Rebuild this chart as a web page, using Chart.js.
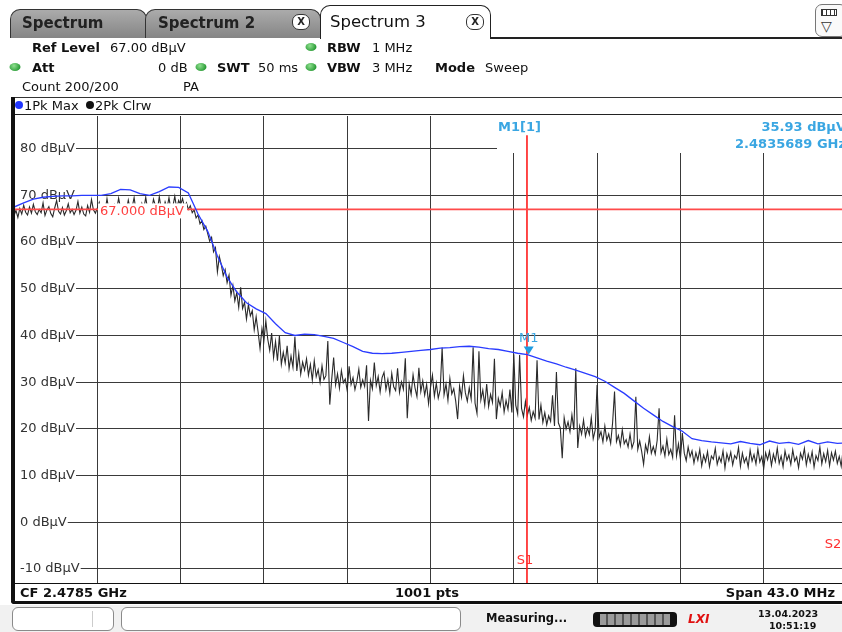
<!DOCTYPE html>
<html><head><meta charset="utf-8">
<script src="https://cdn.jsdelivr.net/npm/chart.js@4.4.1/dist/chart.umd.min.js"></script>
<style>
html,body{margin:0;padding:0;width:842px;height:632px;overflow:hidden;background:#fff;font-family:"DejaVu Sans",sans-serif;color:#111;}
#wrap{position:absolute;left:0;top:0;width:848px;height:632px;}
.t{position:absolute;transform:translateY(-50%);line-height:1;white-space:nowrap;font-size:13px;}
.b{font-weight:bold;}
.box{position:absolute;box-sizing:border-box;}
.dot{position:absolute;width:11px;height:8px;border-radius:50%;background:radial-gradient(circle at 40% 35%,#8fe08f,#2e9e3a 70%);transform:translate(-50%,-50%);}
.tab{position:absolute;box-sizing:border-box;border:1px solid #333;border-bottom:none;border-radius:10px 10px 0 0;background:linear-gradient(#ababab,#858585);}
.xb{position:absolute;box-sizing:border-box;width:18px;height:16px;border:1px solid #333;border-radius:7px;background:#fff;font:bold 10px "DejaVu Sans";text-align:center;line-height:14px;color:#222;}
</style></head><body>
<div id="wrap"><canvas id="c" width="848" height="632"></canvas></div>

<!-- tabs -->
<div class="tab" style="left:10px;top:9px;width:137px;height:29px;"></div>
<div class="t b" style="left:22px;top:23px;font-size:15px;color:#222;">Spectrum</div>
<div class="tab" style="left:145px;top:9px;width:176px;height:29px;"></div>
<div class="t b" style="left:158px;top:23px;font-size:15px;color:#222;">Spectrum 2</div>
<div class="xb" style="left:292px;top:14px;">X</div>
<div class="box" style="left:320px;top:5px;width:171px;height:34px;border:1.5px solid #222;border-bottom:none;border-radius:10px 10px 0 0;background:#fff;"></div>
<div class="t" style="left:330px;top:22px;font-size:16.5px;">Spectrum 3</div>
<div class="xb" style="left:466px;top:14px;">X</div>
<div class="box" style="left:490px;top:37px;width:352px;height:1.5px;background:#222;"></div>
<div class="box" style="left:815px;top:4px;width:32px;height:33px;border:1px solid #777;border-radius:7px;background:#fafafa;"></div>
<div class="box" style="left:821px;top:9px;width:16px;height:7px;border:1.5px solid #333;background:repeating-linear-gradient(90deg,#333 0 1px,#fff 1px 4px);"></div>
<div class="t" style="left:821px;top:26px;font-size:14px;color:#333;">▽</div>

<!-- header info -->
<div class="t b" style="left:32px;top:47px;">Ref Level</div>
<div class="t" style="left:110px;top:47px;">67.00 dBµV</div>
<div class="dot" style="left:311px;top:47px;"></div>
<div class="t b" style="left:327px;top:47px;">RBW</div>
<div class="t" style="left:372px;top:47px;">1 MHz</div>

<div class="dot" style="left:15px;top:67px;"></div>
<div class="t b" style="left:32px;top:67px;">Att</div>
<div class="t" style="left:158px;top:67px;">0 dB</div>
<div class="dot" style="left:201px;top:67px;"></div>
<div class="t b" style="left:217px;top:67px;">SWT</div>
<div class="t" style="left:258px;top:67px;">50 ms</div>
<div class="dot" style="left:311px;top:67px;"></div>
<div class="t b" style="left:327px;top:67px;">VBW</div>
<div class="t" style="left:372px;top:67px;">3 MHz</div>
<div class="t b" style="left:435px;top:67px;">Mode</div>
<div class="t" style="left:485px;top:67px;">Sweep</div>

<div class="t" style="left:22px;top:86px;">Count 200/200</div>
<div class="t" style="left:183px;top:86px;">PA</div>

<!-- legend row + frame -->
<div class="box" style="left:12px;top:97px;width:836px;height:1px;background:#333;"></div>
<div class="box" style="left:14px;top:114px;width:834px;height:1px;background:#222;"></div>
<div class="box" style="left:15px;top:101px;width:8px;height:8px;border-radius:50%;background:#1f35ff;"></div>
<div class="t" style="left:24px;top:105px;">1Pk Max</div>
<div class="box" style="left:86px;top:101px;width:8px;height:8px;border-radius:50%;background:#111;"></div>
<div class="t" style="left:95px;top:105px;">2Pk Clrw</div>
<div class="box" style="left:11px;top:97px;width:4px;height:507px;background:#111;border-radius:0 0 0 5px;"></div>
<div class="box" style="left:14px;top:583px;width:834px;height:1px;background:#111;"></div>
<div class="box" style="left:11px;top:601px;width:837px;height:3px;background:#111;border-radius:0 0 0 5px;"></div>
<div class="t b" style="left:20px;top:592px;">CF 2.4785 GHz</div>
<div class="t b" style="left:395px;top:592px;">1001 pts</div>
<div class="t b" style="right:7px;top:592px;">Span 43.0 MHz</div>

<!-- status bar -->
<div class="box" style="left:0;top:605px;width:842px;height:27px;background:#f1f1f1;"></div>
<div class="box" style="left:12px;top:607px;width:102px;height:24px;border:1px solid #8a8a8a;border-radius:6px;background:#fff;"></div>
<div class="box" style="left:92px;top:611px;width:1px;height:16px;background:#ccc;"></div>
<div class="box" style="left:121px;top:607px;width:340px;height:24px;border:1px solid #8a8a8a;border-radius:6px;background:#fff;"></div>
<div class="t b" style="left:486px;top:619px;font-size:11.5px;">Measuring...</div>
<div class="box" style="left:593px;top:612px;width:84px;height:15px;border-radius:4px;background:#111;"></div>
<div class="box" style="left:600px;top:614px;width:70px;height:11px;background:repeating-linear-gradient(90deg,#9a9a9a 0 6px,#555 6px 8px);"></div>
<div class="t b" style="left:688px;top:619px;font-size:12px;font-style:italic;color:#e01010;">LXI</div>
<div class="t b" style="left:758px;top:614px;font-size:9.5px;">13.04.2023</div>
<div class="t b" style="left:769px;top:626px;font-size:9.5px;">10:51:19</div>

<script>
// ---- data ----
const startFreqMHz = 2457.0;          // CF 2.4785 GHz - span/2
const spanMHz = 43.0;
const xGridMHz = [2457.0,2461.3,2465.6,2469.9,2474.2,2478.5,2482.8,2487.1,2491.4,2495.7,2500.0];
const yTickValues = [-10,0,10,20,30,40,50,60,70,80];
const yMin = -13, yMax = 87;

// Trace 1: 1Pk Max (one value every 0.5 MHz)
const blueStepMHz = 0.5;
const maxHoldLevels = [
 67.5,68.4,69.2,69.6,69.8,69.9,69.9,70.0,70.0,70.0,
 70.4,71.3,71.2,70.4,70.0,70.8,71.8,71.7,70.5,66.0,
 62.3,57.0,52.5,49.3,47.0,45.7,44.7,42.5,40.6,40.0,
 40.3,40.2,39.8,39.4,38.5,37.6,36.6,36.2,36.1,36.2,
 36.4,36.6,36.8,37.0,37.3,37.4,37.6,37.7,37.5,37.2,
 37.0,36.6,36.2,35.9,35.2,34.5,33.9,33.2,32.6,31.9,
 31.2,30.2,28.9,27.6,26.0,24.4,23.0,21.6,20.5,19.5,
 17.9,17.5,17.2,17.0,16.8,17.3,16.9,16.6,17.4,16.9,
 17.1,16.7,17.5,16.8,17.2,16.9,17.0];

// Trace 2: 2Pk Clrw (one value every 0.1 MHz)
const blackStepMHz = 0.1;
const clearWriteLevels = [
 65.6,66.8,65.3,67.2,66.0,67.9,66.4,65.8,67.5,66.2,
 68.1,66.5,65.9,67.0,66.3,68.4,65.7,66.9,67.6,66.1,
 65.4,67.3,68.9,66.6,66.0,67.4,65.8,66.7,68.2,66.3,
 67.0,65.9,66.8,68.7,66.2,67.5,66.0,65.6,67.8,66.4,
 69.1,66.9,66.2,67.3,68.5,66.0,67.1,66.6,69.3,66.8,
 67.4,66.3,68.0,66.9,69.4,67.2,66.5,67.7,66.8,69.0,
 66.9,67.5,69.5,66.7,67.3,66.4,68.3,67.0,69.6,66.9,
 67.4,66.6,69.2,67.8,66.8,69.7,67.1,66.5,68.6,67.3,
 69.5,66.9,67.6,69.8,67.2,68.9,68.0,69.3,67.5,68.4,
 67.0,
 67.8,66.3,66.9,65.2,65.8,63.9,64.6,62.7,63.4,61.8,
 60.2,61.0,57.9,58.8,53.6,56.9,55.2,52.8,54.1,51.3,
 52.9,48.6,50.7,47.4,49.2,46.0,50.3,45.8,47.1,43.5,
 46.6,44.2,45.3,41.2,44.0,40.8,37.2,41.5,38.9,43.1,
 39.2,36.8,40.5,35.3,38.7,34.6,39.9,33.8,36.4,34.1,
 37.8,32.9,35.6,33.2,39.7,32.4,36.1,31.7,34.3,32.6,
 35.0,31.5,33.8,30.4,34.6,31.2,32.7,29.9,33.5,30.6,
 31.4,38.8,25.2,30.6,35.3,29.4,31.8,28.7,32.5,29.9,
 30.7,28.2,33.4,29.5,31.0,28.4,30.2,32.8,28.9,30.5,
 29.1,33.6,21.7,30.4,28.6,34.2,29.3,31.2,27.9,31.0,
 32.1,28.4,30.6,27.6,31.9,29.0,28.2,33.0,27.8,30.1,
 28.5,35.1,22.3,29.7,27.4,31.6,28.8,26.9,33.1,28.0,
 30.3,27.2,29.5,25.4,28.9,31.5,27.0,29.8,26.6,28.4,
 37.4,27.3,29.6,26.1,30.8,27.5,28.6,26.0,22.1,29.2,
 26.8,31.4,27.7,25.9,28.8,26.4,37.5,25.5,23.3,36.6,
 26.2,28.3,25.1,29.6,24.8,27.4,25.7,35.0,22.1,26.5,
 24.9,27.8,23.6,26.1,24.2,28.4,23.5,36.0,25.1,23.2,
 35.8,24.4,22.6,25.9,22.9,24.6,21.8,23.7,22.3,34.7,
 22.0,25.1,21.4,23.5,20.9,22.8,21.6,27.2,20.6,32.2,
 21.3,20.2,13.7,22.4,20.0,21.5,19.4,23.0,19.8,33.0,
 15.9,20.6,18.9,21.9,18.4,20.2,18.8,22.4,17.9,19.7,
 29.4,18.1,19.4,17.2,20.6,17.6,18.9,16.9,21.3,28.0,
 17.3,18.6,16.4,19.8,16.8,17.7,16.1,18.9,15.9,17.2,
 26.9,15.6,17.4,15.2,12.4,16.6,15.0,18.3,14.8,16.2,
 14.6,17.5,24.4,14.9,16.3,14.2,17.8,14.5,15.6,13.9,
 22.9,14.2,16.8,13.6,19.1,14.8,13.2,16.1,14.0,15.3,
 12.7,14.9,13.3,15.6,12.1,14.4,13.0,15.1,11.9,14.2,
 13.5,15.8,12.4,14.0,12.9,15.3,11.6,14.7,13.2,15.0,
 12.3,14.3,13.6,16.0,12.0,14.8,12.8,13.9,11.8,15.4,
 13.1,14.5,12.5,15.7,12.9,14.1,11.5,14.9,13.4,15.2,
 12.2,14.6,13.0,15.9,12.6,14.2,11.9,15.3,13.3,14.4,
 12.4,15.5,13.1,14.0,11.7,14.8,13.5,15.8,12.3,14.6,
 12.9,15.1,11.8,14.3,13.2,16.1,12.5,14.7,13.0,15.4,
 12.1,14.9,13.3,15.2,12.6,14.1,12.0,15.6,13.4,14.5];

const displayLineLevel = 67.0;
const s1FreqMHz = 2483.48;
const s1Top = 82.9;
const markerFreqMHz = 2483.5689;
const markerLevel = 35.93;

// ---- build ----
const bluePts = maxHoldLevels.map((v,i)=>({x:startFreqMHz+i*blueStepMHz, y:v}));
const blackPts = clearWriteLevels.map((v,i)=>({x:startFreqMHz+i*blackStepMHz, y:v}));

const overlay = {
  id:'overlay',
  beforeDatasetsDraw(chart){
    const c = chart.ctx, a = chart.chartArea;
    c.save();
    c.fillStyle = '#fff';
    c.fillRect(497, a.top, 360, 37);
    c.restore();
  },
  afterDatasetsDraw(chart){
    const c = chart.ctx, xs = chart.scales.x, ys = chart.scales.y;
    c.save();
    const yd = ys.getPixelForValue(displayLineLevel);
    c.fillStyle = '#fff';
    c.fillRect(98, yd-6, 89, 15);
    c.font = '13px "DejaVu Sans"';
    c.fillStyle = '#ff4040';
    c.textBaseline = 'middle';
    c.textAlign = 'left';
    c.fillText('67.000 dBµV', 100, yd+2);
    const xs1 = xs.getPixelForValue(s1FreqMHz);
    c.textAlign = 'center';
    c.fillStyle = '#ff3030';
    c.fillText('S1', xs1-2, 561);
    c.fillText('S2', 833, 545);
    const mx = xs.getPixelForValue(markerFreqMHz), my = ys.getPixelForValue(markerLevel);
    c.fillStyle = '#1f9be0';
    c.beginPath();
    c.moveTo(mx-5, my-8); c.lineTo(mx+5, my-8); c.lineTo(mx, my); c.closePath(); c.fill();
    c.fillStyle = '#3aa6e2';
    c.fillText('M1', mx, my-16);
    c.font = 'bold 13px "DejaVu Sans"';
    c.textAlign = 'left';
    c.fillText('M1[1]', 498, 128);
    c.textAlign = 'right';
    c.fillText('35.93 dBµV', 846, 128);
    c.fillText('2.4835689 GHz', 846, 145);
    c.restore();
  }
};

new Chart(document.getElementById('c'), {
  type:'line',
  data:{datasets:[
    {label:'1Pk Max', data:bluePts, borderColor:'#2a3cff', borderWidth:1.3, pointRadius:0, tension:0},
    {label:'D1', data:[{x:startFreqMHz,y:displayLineLevel},{x:startFreqMHz+spanMHz,y:displayLineLevel}], borderColor:'#ff4a4a', borderWidth:1.6, pointRadius:0},
    {label:'S1', data:[{x:s1FreqMHz,y:yMin},{x:s1FreqMHz,y:s1Top}], borderColor:'#ff1a1a', borderWidth:1.6, pointRadius:0},
    {label:'2Pk Clrw', data:blackPts, borderColor:'#2a2a2a', borderWidth:1.1, pointRadius:0, tension:0}
  ]},
  options:{
    responsive:false, animation:false, events:[],
    plugins:{legend:{display:false}, tooltip:{enabled:false}},
    layout:{padding:{left:14, top:116, right:1, bottom:49}},
    scales:{
      x:{type:'linear', min:startFreqMHz, max:startFreqMHz+spanMHz,
         afterBuildTicks:(s)=>{s.ticks = xGridMHz.map(v=>({value:v}));},
         afterFit:(s)=>{s.height = 0;},
         ticks:{display:false}, grid:{color:'#3a3a3a', drawTicks:false, lineWidth:1}, border:{display:false}},
      y:{type:'linear', min:yMin, max:yMax,
         afterBuildTicks:(s)=>{s.ticks = yTickValues.map(v=>({value:v}));},
         afterFit:(s)=>{s.width = 0;},
         ticks:{mirror:true, padding:6, color:'#333', font:{family:'DejaVu Sans', size:13},
                showLabelBackdrop:true, backdropColor:'#fff', backdropPadding:{left:6,right:1,top:2,bottom:2},
                callback:(v)=>v+' dBµV'},
         grid:{color:'#3a3a3a', drawTicks:false, lineWidth:1}, border:{display:false}}
    }
  },
  plugins:[overlay]
});
</script>
</body></html>
